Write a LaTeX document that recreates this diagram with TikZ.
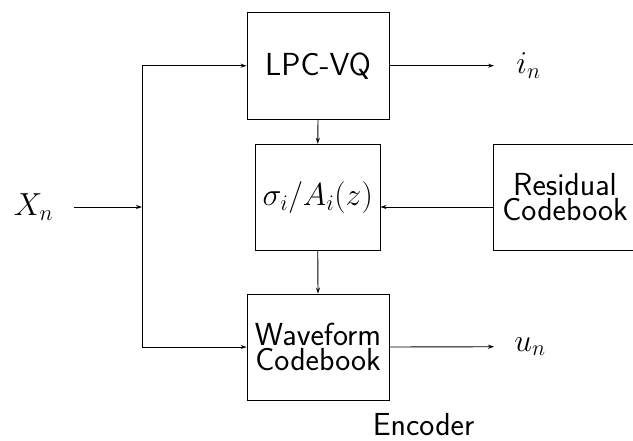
\documentclass[tikz,border=0pt]{standalone}
\usepackage{fix-cm}
\usepackage{fontspec}
\usetikzlibrary{arrows.meta}
\begin{document}
\begin{tikzpicture}[x=1bp, y=-1bp, >={Stealth[length=6bp,width=4bp]}, line width=0.9bp,
  blok/.style={draw, align=center, inner sep=0pt,
    font=\sffamily\fontsize{32}{25}\selectfont},
  popis/.style={inner sep=0pt, font=\fontsize{32}{36}\selectfont}]
\useasboundingbox (0,0) rectangle (633,441);

% bloky
\node[blok, minimum width=142bp, minimum height=107bp] (lpc) at (318,65.7) {LPC-VQ};
\node[blok, minimum width=124.5bp, minimum height=106.5bp] (filtr) at (317.75,197.5) {$\sigma_i/A_i(z)$};
\node[blok, minimum width=142bp, minimum height=106bp] (wave) at (318,347) {Waveform\\Codebook};
\node[blok, minimum width=144bp, minimum height=106.5bp] (res) at (565,197.5) {Residual\\Codebook};

% popisky
\node[popis] (xn) at (33.5,207) {$X_n$};
\node[popis, anchor=west] (in) at (516,65.7) {$i_n$};
\node[popis, anchor=west] (un) at (514,346.7) {$u_n$};
\node[popis, font=\sffamily\fontsize{32}{36}\selectfont] (enc) at (423.5,425) {Encoder};
\coordinate (split) at (142,207);

% sipky
\draw[->, shorten <=20bp] (xn.east) -- (split);
\draw (split |- lpc) -- (split |- wave);
\draw[->] (split |- lpc) -- (lpc.west);
\draw[->] (split |- wave) -- (wave.west);
\draw[->, shorten >=22bp] (lpc.east) -- (in.west);
\draw[->, shorten >=20bp] (wave.east) -- (un.west);
\draw[->] (lpc.south) -- (filtr.north);
\draw[->] (filtr.south) -- (wave.north);
\draw[->] (res.west |- split) -- (filtr.east |- split);

\end{tikzpicture}
\end{document}
